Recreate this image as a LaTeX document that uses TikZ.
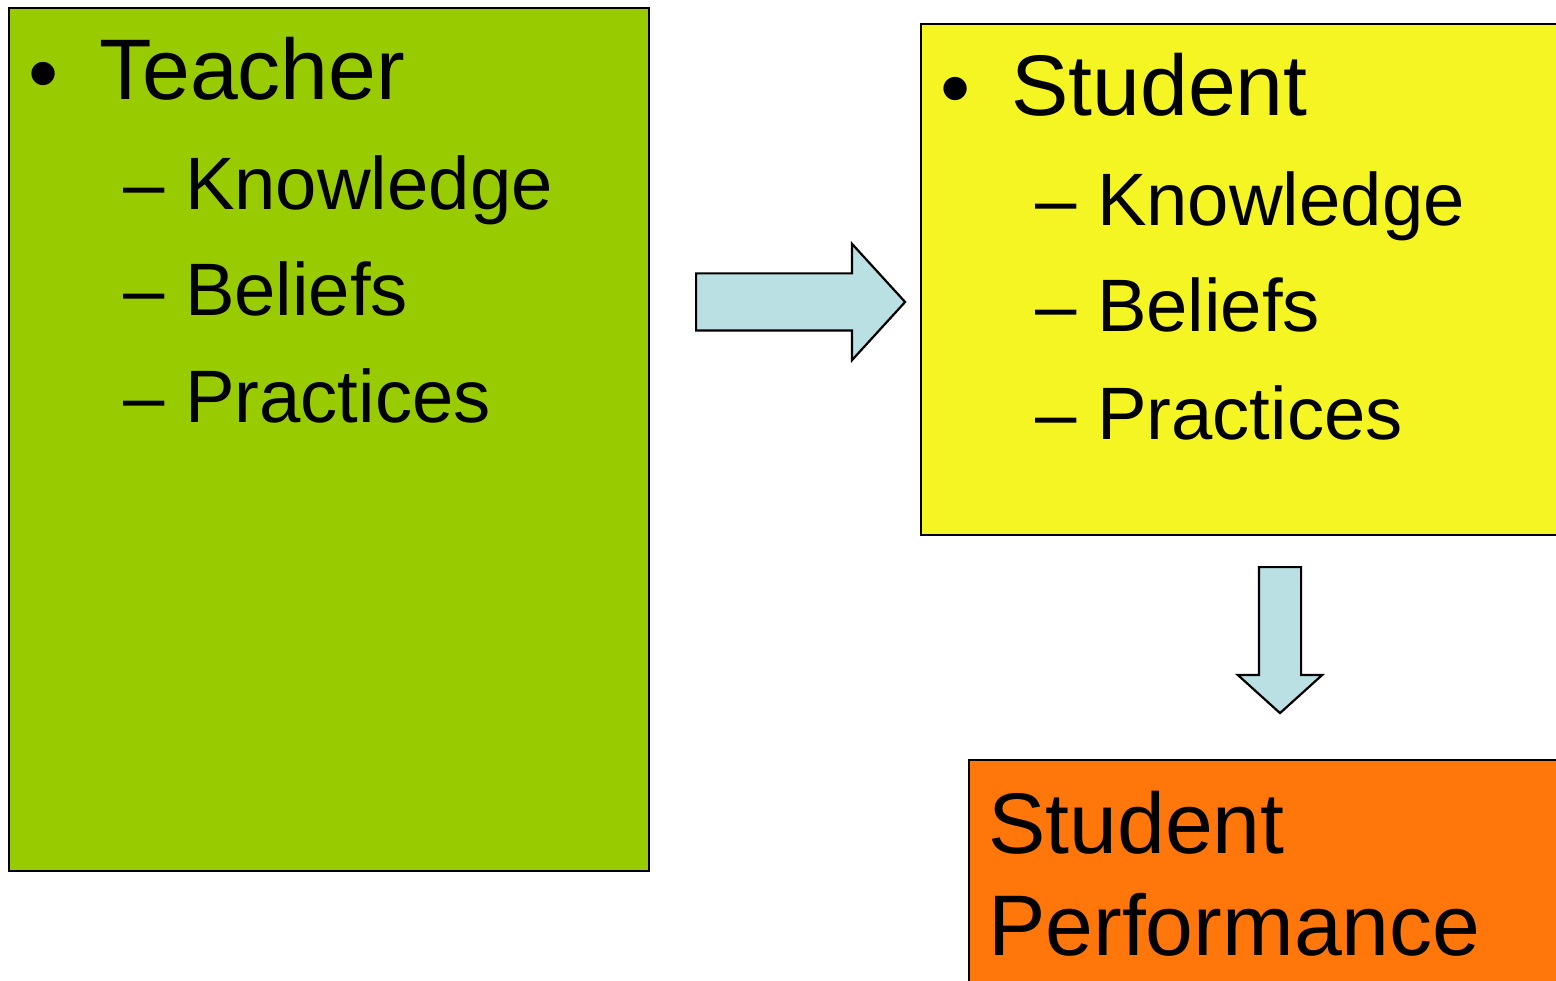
\documentclass[tikz,border=0pt]{standalone}
\usepackage{fontspec}
\setmainfont{Liberation Sans}
\usetikzlibrary{shapes.arrows}
\definecolor{teachergreen}{HTML}{99CC00}
\definecolor{studentyellow}{HTML}{F5F523}
\definecolor{perforange}{HTML}{FF770A}
\definecolor{flowblue}{HTML}{BBE0E3}
\tikzset{
	panel/.style={draw, rectangle, line width=2.2pt, anchor=north west, inner sep=0pt},
	% big heading lines and the sub items under them
	headline/.style={anchor=base west, inner sep=0pt, font=\fontsize{86}{100}\selectfont},
	subitem/.style={anchor=base west, inner sep=0pt, font=\fontsize{74.3}{88}\selectfont},
	dot/.style={anchor=center, inner sep=0pt, font=\fontsize{86}{100}\selectfont},
	flow/.style={single arrow, draw, line width=2.2pt, fill=flowblue, inner sep=0pt, single arrow head indent=0pt, anchor=tail},
}

\begin{document}
\begin{tikzpicture}[x=1pt, y=-1pt]
	\useasboundingbox (0,0) rectangle (1556,981);
	\clip (0,0) rectangle (1556,981);
	
	\node (teacher) [panel, fill=teachergreen, minimum width=640pt, minimum height=863pt] at (8,7) {};
	\node (student) [panel, fill=studentyellow, minimum width=700pt, minimum height=511pt] at (920,23) {};
	\node (perf) [panel, fill=perforange, minimum width=700pt, minimum height=300pt] at (968,759) {};
	
	\node (tdot) [dot] at (44,82) {•};
	\node (thead) [headline] at (99,100) {Teacher};
	\node (tk) [subitem] at (123,210) {– Knowledge};
	\node (tb) [subitem] at (123,316) {– Beliefs};
	\node (tp) [subitem] at (123,423) {– Practices};
	
	\node (sdot) [dot] at (956,97) {•};
	\node (shead) [headline] at (1011,116) {Student};
	\node (sk) [subitem] at (1035,226) {– Knowledge};
	\node (sb) [subitem] at (1035,332) {– Beliefs};
	\node (sp) [subitem] at (1035,439) {– Practices};
	
	\node (pline1) [headline] at (988,853) {Student};
	\node (pline2) [headline] at (988,955) {Performance};
	
	% block arrows between the panels
	\node (toright) [flow, text height=27.5pt, text depth=27.5pt, minimum height=209pt,
		minimum width=114pt, single arrow head extend=29.5pt, single arrow tip angle=95.2] at (695,302) {};
	\node (todown) [flow, rotate=-90, text height=20pt, text depth=20pt, minimum height=146pt,
		minimum width=82pt, single arrow head extend=21pt, single arrow tip angle=95.8] at (1280,566) {};
	
\end{tikzpicture}
\end{document}
